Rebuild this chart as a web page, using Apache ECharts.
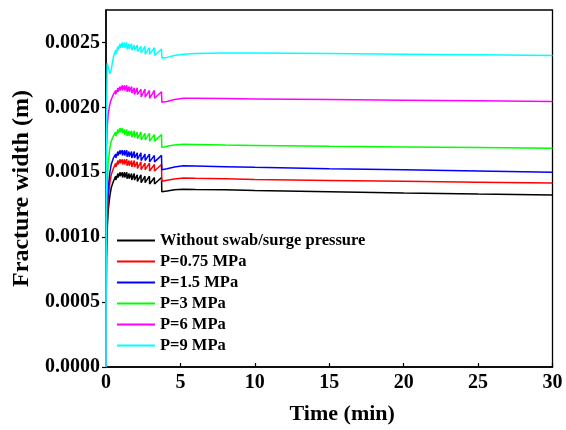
<!DOCTYPE html>
<html>
<head>
<meta charset="utf-8">
<script src="https://cdn.jsdelivr.net/npm/echarts@6/dist/echarts.min.js"></script>
<style>html,body{margin:0;padding:0;background:#fff;}#c{width:566px;height:430px;}</style>
</head>
<body>
<div id="c"></div>
<script>
const seriesNames = ['Without swab/surge pressure','P=0.75 MPa','P=1.5 MPa','P=3 MPa','P=6 MPa','P=9 MPa'];
const xTicks = [0,5,10,15,20,25,30];
const yTicks = [0,0.0005,0.0010,0.0015,0.0020,0.0025];
const time = [0,0.03,0.08,0.15,0.25,0.35,0.5,
  0.65,0.66, 0.8,0.81, 0.95,0.96, 1.1,1.11, 1.25,1.26, 1.4,1.41, 1.55,1.56, 1.72,1.73, 1.9,1.91, 2.1,2.11, 2.35,2.36, 2.62,2.63, 2.92,2.93, 3.25,3.26, 3.73,3.75,
  4.1,4.6,5.2,6,8,10,15,20,25,30];
const wNone = [0,0.00085,0.00106,0.00121,0.00131,0.00138,0.00143,
  0.00147,0.00144, 0.00149,0.00146, 0.00150,0.00147, 0.00150,0.00146, 0.00150,0.00146, 0.00150,0.00145, 0.00149,0.00145, 0.00149,0.00144, 0.00149,0.00144, 0.00148,0.00143, 0.00148,0.00142, 0.00147,0.00142, 0.00147,0.00141, 0.00146,0.00141, 0.00146,0.00135,
  0.001355,0.001365,0.00137,0.001368,0.001365,0.00136,0.00135,0.00134,0.001332,0.001325];
const wP075 = [0,0.0009,0.00114,0.0013,0.00141,0.00148,0.00153,
  0.00157,0.00154, 0.00159,0.00156, 0.00160,0.00157, 0.00160,0.00156, 0.00160,0.00156, 0.00160,0.00155, 0.00159,0.00155, 0.00159,0.00154, 0.00159,0.00154, 0.00158,0.00153, 0.00158,0.00152, 0.00157,0.00152, 0.00157,0.00151, 0.00156,0.00151, 0.00156,0.00143,
  0.001438,0.001448,0.001455,0.001453,0.00145,0.001445,0.001437,0.00143,0.001423,0.001417];
const wP15 = [0,0.00095,0.0012,0.00137,0.00149,0.00156,0.00161,
  0.00164,0.00161, 0.00166,0.00163, 0.00167,0.00164, 0.00167,0.00163, 0.00167,0.00163, 0.00167,0.00162, 0.00166,0.00162, 0.00166,0.00161, 0.00166,0.00161, 0.00165,0.00160, 0.00165,0.00159, 0.00164,0.00159, 0.00164,0.00158, 0.00163,0.00158, 0.00163,0.00152,
  0.001527,0.00154,0.00155,0.001548,0.001543,0.001538,0.001528,0.00152,0.00151,0.0015];
const wP3 = [0,0.00115,0.00142,0.00158,0.00168,0.00174,0.00178,
  0.00181,0.00178, 0.00183,0.00180, 0.00184,0.00181, 0.00184,0.00180, 0.00183,0.00179, 0.00183,0.00178, 0.00182,0.00178, 0.00182,0.00177, 0.00182,0.00177, 0.00181,0.00176, 0.00181,0.00175, 0.00180,0.00175, 0.00180,0.00174, 0.00179,0.00174, 0.00179,0.00169,
  0.0017,0.00171,0.001715,0.001714,0.00171,0.001707,0.0017,0.001695,0.00169,0.001685];
const wP6 = [0,0.00165,0.00185,0.00195,0.00202,0.00206,0.0021,
  0.00213,0.00210, 0.00215,0.00212, 0.00216,0.00213, 0.00217,0.00213, 0.00217,0.00213, 0.00217,0.00212, 0.00216,0.00212, 0.00216,0.00211, 0.00215,0.00210, 0.00215,0.00210, 0.00214,0.00208, 0.00214,0.00208, 0.00213,0.00207, 0.00213,0.00207, 0.00212,0.00204,
  0.002045,0.00206,0.00207,0.00207,0.002068,0.002065,0.00206,0.002055,0.00205,0.002045];
const wP9 = [0,0.0018,0.00234,0.00231,0.00226,0.00229,0.00239,
  0.00244,0.00241, 0.00247,0.00244, 0.00249,0.00246, 0.00250,0.00246, 0.00250,0.00246, 0.00250,0.00245, 0.00249,0.00245, 0.00249,0.00244, 0.00248,0.00244, 0.00248,0.00243, 0.00247,0.00242, 0.00247,0.00241, 0.00246,0.00241, 0.00246,0.00240, 0.00245,0.00238,
  0.002385,0.0024,0.00241,0.002415,0.002418,0.002418,0.002415,0.00241,0.002405,0.0024];
const colors = ['#000000','#ff0000','#0000ff','#00ff00','#ff00ff','#00ffff'];
const allValues = [wNone,wP075,wP15,wP3,wP6,wP9];

const font = "'Liberation Serif','Times New Roman',serif";
const chart = echarts.init(document.getElementById('c'));
chart.setOption({
  animation: false,
  backgroundColor: '#fff',
  grid: {left: 106, right: 13.5, top: 10, bottom: 61, show: true, borderColor: '#000', borderWidth: 1.3, backgroundColor: 'transparent'},
  legend: {
    orient: 'vertical', left: 117, top: 232, padding: 0,
    icon: 'rect',
    itemWidth: 38, itemHeight: 2, itemGap: 4,
    textStyle: {fontFamily: font, fontWeight: 'bold', fontSize: 16.5, color: '#000'},
    data: seriesNames
  },
  xAxis: {
    type: 'value', min: 0, max: 30, interval: 5,
    name: 'Time (min)', nameLocation: 'middle', nameGap: 36,
    nameTextStyle: {fontFamily: font, fontWeight: 'bold', fontSize: 22, color: '#000', padding: [0,0,0,26]},
    axisLine: {show: true, onZero: false, lineStyle: {color: '#000', width: 1.5}},
    axisTick: {show: true, inside: true, length: 4, lineStyle: {color: '#000', width: 1.2}},
    axisLabel: {fontFamily: font, fontWeight: 'bold', fontSize: 20, color: '#000', margin: 6,
      customValues: xTicks},
    splitLine: {show: false}
  },
  yAxis: {
    type: 'value', min: 0, max: 0.00275,
    name: 'Fracture width (m)', nameLocation: 'middle', nameGap: 71, nameRotate: 90,
    nameTextStyle: {fontFamily: font, fontWeight: 'bold', fontSize: 24, color: '#000'},
    axisLine: {show: true, onZero: false, lineStyle: {color: '#000', width: 1.5}},
    axisTick: {show: true, inside: false, length: 4, customValues: yTicks, lineStyle: {color: '#000', width: 1.2}},
    axisLabel: {fontFamily: font, fontWeight: 'bold', fontSize: 20, color: '#000', margin: 6,
      customValues: yTicks, formatter: v => v.toFixed(4)},
    splitLine: {show: false}
  },
  series: allValues.map((vals, i) => ({
    name: seriesNames[i],
    type: 'line',
    symbol: 'none',
    color: colors[i],
    lineStyle: {color: colors[i], width: 1.5},
    data: time.map((t, k) => [t, vals[k]])
  }))
});
</script>
</body>
</html>
